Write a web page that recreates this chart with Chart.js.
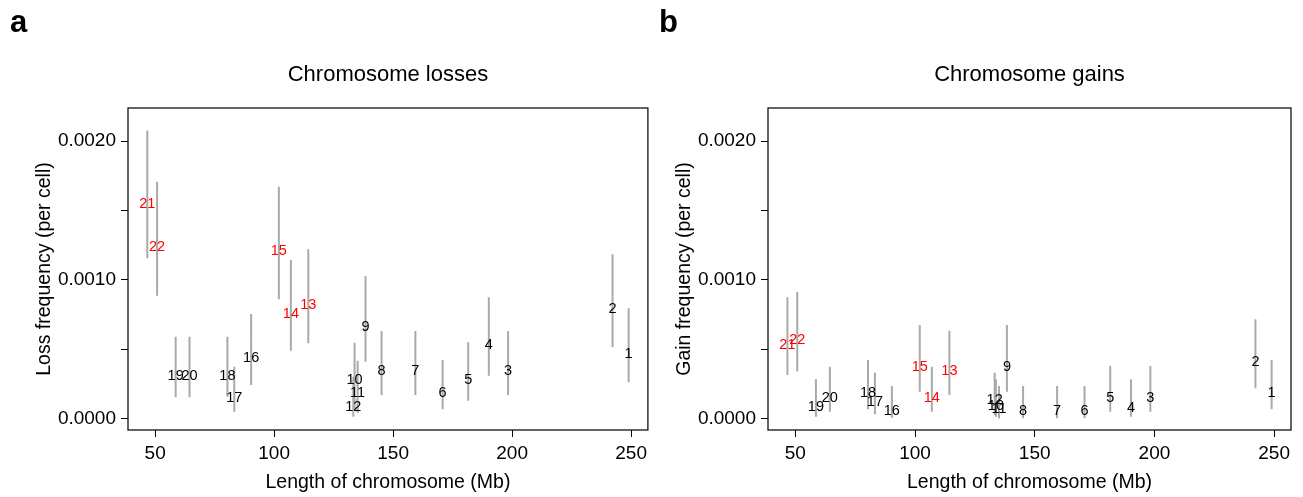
<!DOCTYPE html>
<html>
<head>
<meta charset="utf-8">
<script src="https://cdn.jsdelivr.net/npm/chart.js@4/dist/chart.umd.min.js"></script>
<style>
  html, body { margin: 0; padding: 0; background: #fff; }
  #wrap { position: relative; width: 1303px; height: 497px; overflow: hidden; }
  canvas { position: absolute; top: 0; }
  #lossCanvas { left: 0; }
  #gainCanvas { left: 640px; }
</style>
</head>
<body>
<div id="wrap">
  <canvas id="lossCanvas" width="652" height="497"></canvas>
  <canvas id="gainCanvas" width="663" height="497"></canvas>
</div>
<script>
// chromosome 1..22
const chromosomes = ['1','2','3','4','5','6','7','8','9','10','11','12','13','14','15','16','17','18','19','20','21','22']
const lengthMb = [248.96, 242.19, 198.30, 190.21, 181.54, 170.81, 159.35, 145.14, 138.39, 133.80, 135.09, 133.28, 114.36, 107.04, 101.99, 90.34, 83.26, 80.37, 58.62, 64.44, 46.71, 50.82]
const redChromosomes = ['13', '14', '15', '21', '22']

// losses per cell (x 1e-3)
const lossFreq = [0.469, 0.799, 0.349, 0.536, 0.282, 0.188, 0.349, 0.349, 0.666, 0.282, 0.188, 0.089, 0.825, 0.762, 1.215, 0.440, 0.156, 0.313, 0.313, 0.313, 1.557, 1.244]
const lossLow  = [0.260, 0.513, 0.168, 0.308, 0.127, 0.065, 0.168, 0.168, 0.409, 0.060, 0.038, 0.012, 0.541, 0.488, 0.859, 0.240, 0.048, 0.156, 0.152, 0.152, 1.155, 0.885]
const lossHigh = [0.794, 1.184, 0.630, 0.874, 0.549, 0.421, 0.630, 0.630, 1.027, 0.546, 0.416, 0.300, 1.220, 1.143, 1.672, 0.753, 0.373, 0.589, 0.589, 0.589, 2.077, 1.708]

// gains per cell (x 1e-3)
const gainFreq = [0.188, 0.416, 0.156, 0.084, 0.151, 0.060, 0.060, 0.060, 0.378, 0.096, 0.072, 0.137, 0.349, 0.151, 0.378, 0.060, 0.125, 0.188, 0.089, 0.151, 0.536, 0.573]
const gainLow  = [0.065, 0.217, 0.048, 0.012, 0.048, 0.000, 0.000, 0.000, 0.192, 0.012, 0.000, 0.024, 0.168, 0.048, 0.192, 0.004, 0.029, 0.065, 0.012, 0.048, 0.313, 0.337]
const gainHigh = [0.421, 0.715, 0.378, 0.282, 0.378, 0.233, 0.233, 0.233, 0.674, 0.282, 0.233, 0.329, 0.632, 0.373, 0.674, 0.233, 0.329, 0.421, 0.282, 0.373, 0.874, 0.912]

const xTicks = [50, 100, 150, 200, 250]
const yTicks = [0, 0.0005, 0.001, 0.0015, 0.002]
const yTickLabels = [0, 0.001, 0.002]

const FONT = "'Liberation Sans', Arial, Helvetica, sans-serif"
const scaleK = 0.001

function toPoints(vals) {
  return vals.map((v, i) => ({ x: lengthMb[i], y: v * scaleK }))
}

function errorBarPoints(low, high) {
  const pts = []
  low.forEach((lo, i) => {
    pts.push({ x: lengthMb[i], y: lo * scaleK })
    pts.push({ x: lengthMb[i], y: high[i] * scaleK })
    pts.push({ x: lengthMb[i], y: null })
  })
  return pts
}

// draws chromosome numbers, the box, the title and the panel letter
const panelDecor = {
  id: 'panelDecor',
  afterDatasetsDraw(chart, args, opts) {
    const ctx = chart.ctx
    const meta = chart.getDatasetMeta(1)
    ctx.save()
    ctx.font = '14.5px ' + FONT
    ctx.textAlign = 'center'
    ctx.textBaseline = 'middle'
    meta.data.forEach((pt, i) => {
      const name = chromosomes[i]
      ctx.fillStyle = redChromosomes.includes(name) ? '#ff0000' : '#000000'
      ctx.fillText(name, pt.x, pt.y + 1)
    })
    ctx.restore()
  },
  afterDraw(chart, args, opts) {
    const ctx = chart.ctx
    const a = chart.chartArea
    ctx.save()
    ctx.strokeStyle = '#111'
    ctx.lineWidth = 1.3
    ctx.strokeRect(a.left, a.top, a.right - a.left, a.bottom - a.top)
    ctx.fillStyle = '#000'
    ctx.font = '22px ' + FONT
    ctx.textAlign = 'center'
    ctx.textBaseline = 'middle'
    ctx.fillText(opts.title, (a.left + a.right) / 2, 75)
    ctx.font = 'bold 31px ' + FONT
    ctx.textAlign = 'left'
    ctx.textBaseline = 'alphabetic'
    ctx.fillText(opts.letter, opts.letterX, 32)
    ctx.restore()
  }
}

function makeChart(canvasId, freq, low, high, yTitle, title, letter, letterX, padRight) {
  const cfg = {
    type: 'scatter',
    data: {
      datasets: [
        {
          data: errorBarPoints(low, high),
          showLine: true,
          spanGaps: false,
          borderColor: '#aaaaaa',
          borderWidth: 2,
          pointRadius: 0,
          borderCapStyle: 'butt'
        },
        {
          data: toPoints(freq),
          pointRadius: 0,
          showLine: false
        }
      ]
    },
    options: {
      responsive: false,
      animation: false,
      events: [],
      layout: { padding: { top: 108, left: 0, bottom: 0, right: padRight } },
      plugins: {
        legend: { display: false },
        tooltip: { enabled: false },
        panelDecor: { title: title, letter: letter, letterX: letterX }
      },
      scales: {
        x: {
          type: 'linear',
          min: 38.6,
          max: 257.05,
          afterBuildTicks: s => { s.ticks = xTicks.map(v => ({ value: v })) },
          afterFit: s => { s.height = 67 },
          border: { display: false },
          grid: { drawOnChartArea: false, drawTicks: true, tickLength: 7, color: '#000' },
          ticks: { color: '#000', font: { size: 19, family: FONT }, padding: 5, maxRotation: 0 },
          title: { display: true, text: 'Length of chromosome (Mb)', color: '#000', font: { size: 19.5, family: FONT }, padding: { top: 0, bottom: 3 } }
        },
        y: {
          type: 'linear',
          min: -0.0000845,
          max: 0.00224,
          afterBuildTicks: s => { s.ticks = yTicks.map(v => ({ value: v })) },
          afterFit: s => { s.width = 128 },
          border: { display: false },
          grid: { drawOnChartArea: false, drawTicks: true, tickLength: 7, color: '#000' },
          ticks: {
            color: '#000',
            font: { size: 19, family: FONT },
            padding: 5,
            callback: v => yTickLabels.some(t => Math.abs(t - v) < 1e-9) ? v.toFixed(4) : ''
          },
          title: { display: true, text: yTitle, color: '#000', font: { size: 19.5, family: FONT }, padding: { top: 33, bottom: 0 } }
        }
      }
    },
    plugins: [panelDecor]
  }
  return new Chart(document.getElementById(canvasId), cfg)
}

makeChart('lossCanvas', lossFreq, lossLow, lossHigh, 'Loss frequency (per cell)', 'Chromosome losses', 'a', 10, 1)
makeChart('gainCanvas', gainFreq, gainLow, gainHigh, 'Gain frequency (per cell)', 'Chromosome gains', 'b', 19, 12)
</script>
</body>
</html>
